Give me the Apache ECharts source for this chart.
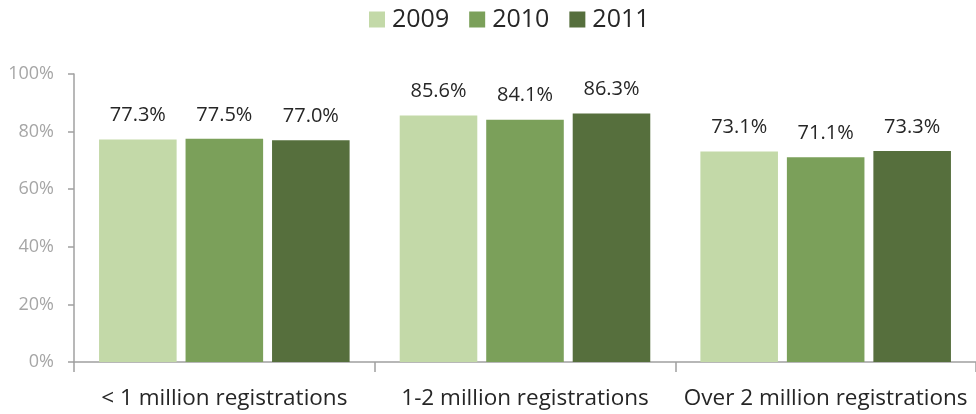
<!DOCTYPE html>
<html><head><meta charset="utf-8">
<script src="https://cdn.jsdelivr.net/npm/echarts@6/dist/echarts.min.js"></script>
<style>html,body{margin:0;padding:0;background:#fff}#c{width:976px;height:414px}</style>
</head><body><div id="c"></div>
<script>
const categories = ['< 1 million registrations', '1-2 million registrations', 'Over 2 million registrations'];
const years = ['2009', '2010', '2011'];
const s2009 = [77.3, 85.6, 73.1];
const s2010 = [77.5, 84.1, 71.1];
const s2011 = [77.0, 86.3, 73.3];
const yTicks = [0, 20, 40, 60, 80, 100];
const colors = ['#c3d9a8', '#7ba05a', '#566f3d'];
const font = '"Open Sans", sans-serif';
const chart = echarts.init(document.getElementById('c'));
const mk = (name, data, i) => ({
  name, type: 'bar', data, barWidth: '25.8%', barGap: '11.5%',
  itemStyle: { color: colors[i] },
  label: { show: true, position: 'top', distance: 14, formatter: p => p.value.toFixed(1) + '%',
    color: '#262626', fontSize: 20, fontFamily: font }
});
chart.setOption({
  animation: false,
  legend: { top: 2, left: 364, itemWidth: 16, itemHeight: 16, itemGap: 20,
    textStyle: { fontSize: 25, color: '#262626', fontFamily: font, padding: [0, 0, 0, 2] }, icon: 'rect' },
  grid: { left: 74, right: 0, top: 74, bottom: 52, containLabel: false },
  xAxis: { type: 'category', data: categories,
    axisLine: { lineStyle: { color: '#a0a0a0', width: 1.5 } },
    axisTick: { show: true, length: 10, lineStyle: { color: '#a0a0a0', width: 1.5 } },
    axisLabel: { interval: 0, color: '#262626', fontSize: 22.5, fontFamily: font, margin: 25 } },
  yAxis: { type: 'value', min: yTicks[0], max: yTicks[yTicks.length - 1], interval: 20,
    splitLine: { show: false },
    axisLine: { show: true, lineStyle: { color: '#a0a0a0', width: 1.5 } },
    axisTick: { show: true, length: 6, lineStyle: { color: '#a0a0a0', width: 1.5 } },
    axisLabel: { color: '#a6a6a6', fontSize: 18, fontFamily: font, margin: 20, formatter: v => v + '%' } },
  series: [mk(years[0], s2009, 0), mk(years[1], s2010, 1), mk(years[2], s2011, 2)]
});
</script></body></html>
